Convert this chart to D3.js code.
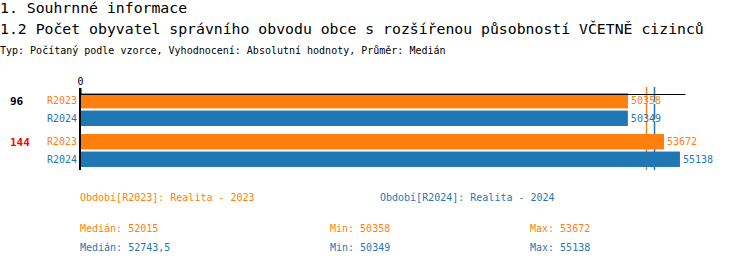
<!DOCTYPE html>
<html>
<head>
<meta charset="utf-8">
<script src="https://cdn.jsdelivr.net/npm/d3@7"></script>
<style>
  body { margin: 0; background: #fff; }
  svg { display: block; font-family: "DejaVu Sans Mono", monospace; }
</style>
</head>
<body>
<svg class="chart" width="750" height="266"></svg>
<script>
// Data
const GROUPS = ["96", "144"];
const GROUP_COLORS = ["#000000", "#ff0000"];
const PERIODS = ["R2023", "R2024"];
const VALUES_R2023 = [50358, 53672];
const VALUES_R2024 = [50349, 55138];
const MEDIANS = [52015, 52743.5];
const MEDIAN_LABELS = ["52015", "52743,5"];
const MINS = [50358, 50349];
const MAXS = [53672, 55138];
const PERIOD_NAMES = ["Období[R2023]: Realita - 2023", "Období[R2024]: Realita - 2024"];
const COLORS = ["#ff7f0e", "#1f77b4"];

const TITLE_1 = "1. Souhrnné informace";
const TITLE_2 = "1.2 Počet obyvatel správního obvodu obce s rozšířenou působností VČETNĚ cizinců";
const SUBTITLE = "Typ: Počítaný podle vzorce, Vyhodnocení: Absolutní hodnoty, Průměr: Medián";

const CHART = d3.select(".chart");

// Titles
CHART.append("text").attr("x", 0).attr("y", 13)
  .style("font-size", "14.8px").text(TITLE_1);
CHART.append("text").attr("x", 0).attr("y", 34)
  .style("font-size", "14.8px").text(TITLE_2);
CHART.append("text").attr("x", 0).attr("y", 54)
  .style("font-size", "10px").text(SUBTITLE);

// Scales
const X_fxn = d3.scaleLinear().domain([0, 55600]).range([80, 685]);
const Y_group = d3.scaleBand().domain(GROUPS).range([93, 175]);
const Y_bar = d3.scaleBand().domain(PERIODS).range([0, 33]).paddingInner(0.12);

const series = [VALUES_R2023, VALUES_R2024];

// Median lines (behind the bars)
MEDIANS.forEach((m, i) => {
  const xm = Math.round(X_fxn(m)) + 0.5;
  CHART.append("line")
    .attr("x1", xm).attr("x2", xm)
    .attr("y1", 87).attr("y2", 170)
    .attr("stroke", COLORS[i]).attr("stroke-width", 1.5)
    .attr("stroke-dasharray", "15,2");
});

// Bars
GROUPS.forEach((g, gi) => {
  const g0 = Y_group(g);
  CHART.append("text")
    .attr("x", 10).attr("y", g0 + Y_bar("R2023") + Y_bar.bandwidth() / 2 + 4)
    .style("font-size", "11px").style("font-weight", "bold")
    .attr("fill", GROUP_COLORS[gi]).text(g);
  PERIODS.forEach((p, pi) => {
    const v = series[pi][gi];
    const y = g0 + Y_bar(p);
    CHART.append("rect")
      .attr("x", X_fxn(0)).attr("y", y)
      .attr("width", X_fxn(v) - X_fxn(0)).attr("height", Y_bar.bandwidth())
      .attr("fill", COLORS[pi]);
    CHART.append("text")
      .attr("x", 77).attr("y", y + Y_bar.bandwidth() / 2 + 3.5)
      .attr("text-anchor", "end").style("font-size", "10px")
      .attr("fill", COLORS[pi]).text(p);
    CHART.append("text")
      .attr("x", X_fxn(v) + 3).attr("y", y + Y_bar.bandwidth() / 2 + 3.5)
      .style("font-size", "10px")
      .attr("fill", COLORS[pi]).text(v);
  });
});

// Axes
const xAxis = CHART.append("g").attr("class", "x-axis")
  .attr("transform", "translate(0, 94)")
  .call(d3.axisTop(X_fxn).tickValues([0]).tickSize(6).tickSizeOuter(0));
xAxis.select(".domain").attr("stroke", "#000");
xAxis.selectAll("text").style("font-family", "DejaVu Sans Mono, monospace").style("font-size", "10px");
xAxis.selectAll(".tick line").attr("stroke-width", 2);

CHART.append("line")
  .attr("x1", 80).attr("x2", 80).attr("y1", 88).attr("y2", 170)
  .attr("stroke", "#000").attr("stroke-width", 2);

// Legend / stats
PERIOD_NAMES.forEach((t, i) => {
  CHART.append("text").attr("x", 80 + i * 300).attr("y", 201)
    .style("font-size", "10px").attr("fill", COLORS[i]).text(t);
});
[0, 1].forEach(i => {
  const y = 232 + i * 19;
  CHART.append("text").attr("x", 80).attr("y", y).style("font-size", "10px")
    .attr("fill", COLORS[i]).text("Medián: " + MEDIAN_LABELS[i]);
  CHART.append("text").attr("x", 330).attr("y", y).style("font-size", "10px")
    .attr("fill", COLORS[i]).text("Min: " + MINS[i]);
  CHART.append("text").attr("x", 530).attr("y", y).style("font-size", "10px")
    .attr("fill", COLORS[i]).text("Max: " + MAXS[i]);
});
</script>
</body>
</html>
